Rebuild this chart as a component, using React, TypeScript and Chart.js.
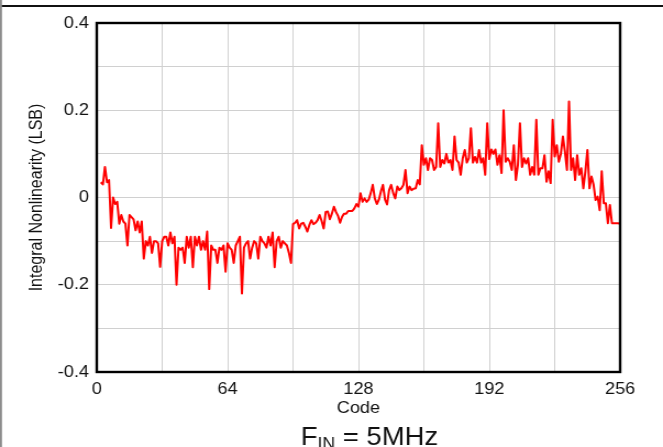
import React, { useEffect, useRef } from "react";
import { Chart, registerables } from "chart.js";

Chart.register(...registerables);

// Integral nonlinearity (LSB), one value per code, starting at FIRST_CODE
const FIRST_CODE = 2;
const INL_LSB = [
  0.035, 0.03, 0.07, 0.035, 0.04, -0.07, 0.0, -0.015, -0.01, -0.06, // 2-11
  -0.04, -0.055, -0.06, -0.11, -0.04, -0.045, -0.05, -0.075, -0.055, -0.08, // 12-21
  -0.055, -0.14, -0.1, -0.11, -0.09, -0.127, -0.1, -0.1, -0.105, -0.159, // 22-31
  -0.1, -0.09, -0.09, -0.11, -0.08, -0.105, -0.09, -0.2, -0.115, -0.12, // 32-41
  -0.115, -0.15, -0.09, -0.115, -0.09, -0.16, -0.09, -0.11, -0.09, -0.12, // 42-51
  -0.1, -0.12, -0.078, -0.21, -0.11, -0.12, -0.12, -0.15, -0.115, -0.12, // 52-61
  -0.11, -0.17, -0.105, -0.115, -0.12, -0.15, -0.11, -0.1, -0.09, -0.22, // 62-71
  -0.115, -0.105, -0.1, -0.14, -0.115, -0.1, -0.105, -0.14, -0.09, -0.1, // 72-81
  -0.105, -0.115, -0.09, -0.11, -0.08, -0.16, -0.1, -0.09, -0.115, -0.1, // 82-91
  -0.105, -0.11, -0.127, -0.15, -0.061, -0.058, -0.052, -0.071, -0.06, -0.058, // 92-101
  -0.067, -0.078, -0.063, -0.052, -0.061, -0.058, -0.052, -0.04, -0.054, -0.071, // 102-111
  -0.033, -0.032, -0.05, -0.037, -0.021, -0.033, -0.042, -0.058, -0.044, -0.037, // 112-121
  -0.037, -0.031, -0.031, -0.031, -0.025, -0.015, -0.021, 0.01, -0.01, -0.002, // 122-131
  -0.01, -0.005, 0.01, 0.029, -0.002, -0.015, -0.005, 0.014, 0.029, -0.005, // 132-141
  -0.016, 0.017, 0.029, 0.01, -0.002, 0.025, 0.017, 0.021, 0.029, 0.063, // 142-151
  0.01, 0.025, 0.017, 0.02, 0.021, 0.04, 0.03, 0.12, 0.075, 0.09, // 152-161
  0.063, 0.09, 0.086, 0.063, 0.07, 0.17, 0.07, 0.086, 0.078, 0.1, // 162-171
  0.08, 0.086, 0.063, 0.14, 0.086, 0.08, 0.052, 0.09, 0.109, 0.08, // 172-181
  0.09, 0.159, 0.08, 0.093, 0.08, 0.109, 0.08, 0.09, 0.052, 0.17, // 182-191
  0.088, 0.11, 0.1, 0.11, 0.075, 0.097, 0.056, 0.2, 0.082, 0.09, // 192-201
  0.082, 0.063, 0.12, 0.04, 0.075, 0.17, 0.07, 0.09, 0.078, 0.09, // 202-211
  0.052, 0.07, 0.052, 0.178, 0.052, 0.067, 0.067, 0.097, 0.036, 0.06, // 212-221
  0.033, 0.178, 0.094, 0.12, 0.082, 0.1, 0.14, 0.105, 0.063, 0.22, // 222-231
  0.063, 0.09, 0.04, 0.097, 0.052, 0.067, 0.021, 0.06, 0.109, 0.021, // 232-241
  0.048, 0.03, -0.006, 0.002, -0.029, 0.06, -0.013, -0.013, -0.059, -0.017, // 242-251
  -0.059, -0.059, -0.059, -0.059, -0.06, // 252-256
];

const X_MIN = 0;
const X_MAX = 256;
const X_GRID_STEP = 32;
const X_LABEL_STEP = 64;
const Y_MIN = -0.4;
const Y_MAX = 0.4;
const Y_GRID_STEP = 0.1;

const X_TITLE = "Code";
const Y_TITLE = "Integral Nonlinearity (LSB)";
const SUB_MAIN = "F";
const SUB_INDEX = "IN";
const SUB_REST = " = 5MHz";

const FONT = '"Liberation Sans", Arial, Helvetica, sans-serif';
const TEXT_COLOR = "#111111";
const GRID_COLOR = "#d0d0d0";

// The reference is drawn slightly wider than tall (horizontal stretch)
const VIEW_W = 663;
const VIEW_H = 447;
const STRETCH = 1.1;
const CANVAS_W = Math.round(VIEW_W / STRETCH);

const decorPlugin = {
  id: "decor",
  afterDraw(chart: any) {
    const { ctx, chartArea: a, width, height } = chart;
    ctx.save();
    ctx.strokeStyle = "#000";
    ctx.lineWidth = 2.4;
    ctx.strokeRect(a.left, a.top, a.right - a.left, a.bottom - a.top);
    ctx.fillStyle = "#111";
    ctx.fillRect(0, 5, width, 2);
    ctx.fillStyle = "#8c8c8c";
    ctx.fillRect(0, 0, 1.8, height);
    const big = `25px ${FONT}`;
    const small = `16px ${FONT}`;
    ctx.font = big;
    const wF = ctx.measureText(SUB_MAIN).width;
    const wRest = ctx.measureText(SUB_REST).width;
    ctx.font = small;
    const wIdx = ctx.measureText(SUB_INDEX).width;
    const total = wF + wIdx + wRest;
    const cx = (a.left + a.right) / 2 + 11 / STRETCH;
    let x = cx - total / 2;
    const base = 445;
    ctx.fillStyle = TEXT_COLOR;
    ctx.textBaseline = "alphabetic";
    ctx.textAlign = "left";
    ctx.font = big;
    ctx.fillText(SUB_MAIN, x, base);
    x += wF;
    ctx.font = small;
    ctx.fillText(SUB_INDEX, x, base + 4);
    x += wIdx;
    ctx.font = big;
    ctx.fillText(SUB_REST, x, base);
    ctx.restore();
  },
};

export default function App() {
  const ref = useRef<HTMLCanvasElement | null>(null);

  useEffect(() => {
    if (!ref.current) return;
    const points = INL_LSB.map((v, i) => ({ x: FIRST_CODE + i, y: v }));
    const chart = new Chart(ref.current, {
      type: "line",
      data: {
        datasets: [
          {
            data: points,
            borderColor: "#ff0000",
            borderWidth: 2,
            pointRadius: 0,
            tension: 0,
            borderJoinStyle: "round",
            fill: false,
          },
        ],
      },
      plugins: [decorPlugin],
      options: {
        animation: false,
        responsive: false,
        devicePixelRatio: 1,
        layout: { padding: { left: 0, right: CANVAS_W - Math.round(620 / STRETCH), top: 23, bottom: 0 } },
        plugins: {
          legend: { display: false },
          tooltip: { enabled: false },
          title: { display: false },
        },
        scales: {
          x: {
            type: "linear",
            min: X_MIN,
            max: X_MAX,
            afterFit: (s: any) => {
              s.height = 75;
            },
            afterBuildTicks: (s: any) => {
              const t = [];
              for (let v = X_MIN; v <= X_MAX; v += X_GRID_STEP) t.push({ value: v });
              s.ticks = t;
            },
            ticks: {
              autoSkip: false,
              maxRotation: 0,
              padding: 8,
              color: TEXT_COLOR,
              font: { family: FONT, size: 16.5 },
              callback: (v: any) => (Number(v) % X_LABEL_STEP === 0 ? String(v) : ""),
            },
            grid: { color: GRID_COLOR, lineWidth: 1, drawTicks: false },
            border: { display: false },
            title: {
              display: true,
              text: X_TITLE,
              color: TEXT_COLOR,
              font: { family: FONT, size: 16.5 },
              padding: { top: 0, bottom: 29 },
            },
          },
          y: {
            type: "linear",
            min: Y_MIN,
            max: Y_MAX,
            afterFit: (s: any) => {
              s.width = Math.round(97 / STRETCH);
            },
            afterBuildTicks: (s: any) => {
              const t = [];
              for (let k = -4; k <= 4; k++) t.push({ value: k * Y_GRID_STEP });
              s.ticks = t;
            },
            ticks: {
              autoSkip: false,
              padding: 7,
              color: TEXT_COLOR,
              font: { family: FONT, size: 16.5 },
              callback: (v: any) => {
                const n = Math.round(Number(v) * 10);
                if (n % 2 !== 0) return "";
                return String(n / 10);
              },
            },
            grid: { color: GRID_COLOR, lineWidth: 1, drawTicks: false },
            border: { display: false },
            title: {
              display: true,
              text: Y_TITLE,
              color: TEXT_COLOR,
              font: { family: FONT, size: 16 },
              padding: { top: 24, bottom: 0 },
            },
          },
        },
      },
    } as any);
    return () => chart.destroy();
  }, []);

  return (
    <div style={{ position: "absolute", left: 0, top: 0, width: VIEW_W, height: VIEW_H, background: "#fff" }}>
      <canvas
        ref={ref}
        width={CANVAS_W}
        height={VIEW_H}
        style={{ width: `${VIEW_W}px`, height: `${VIEW_H}px`, display: "block" }}
      />
    </div>
  );
}
